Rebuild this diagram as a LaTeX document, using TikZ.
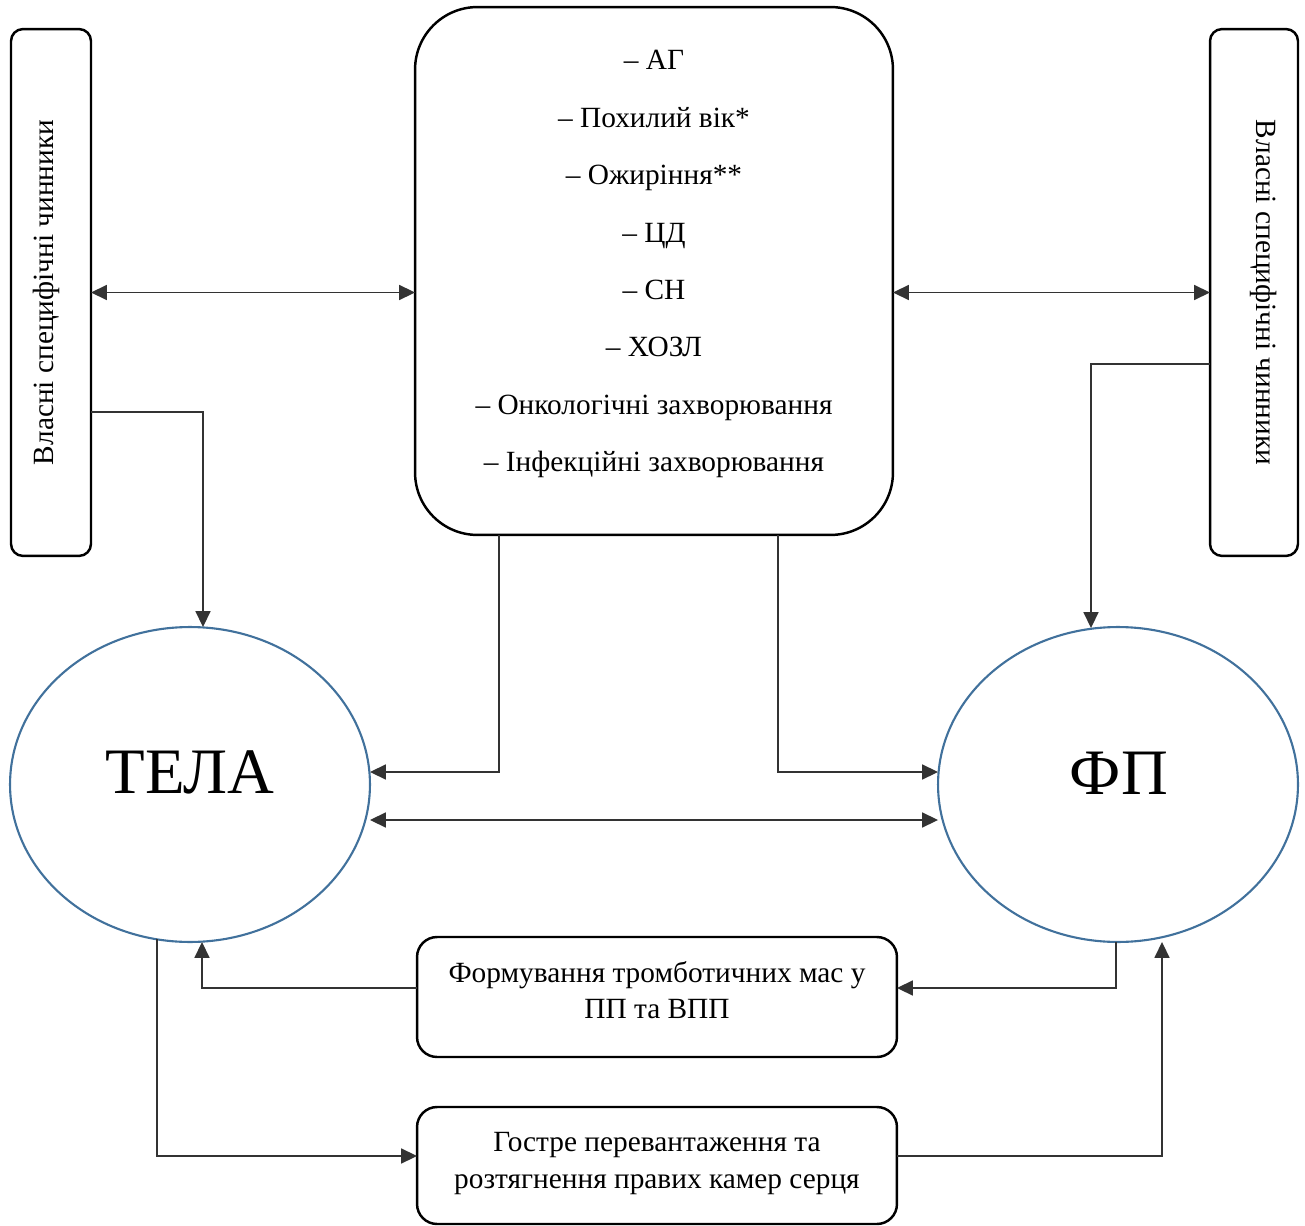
\documentclass[tikz,border=0pt]{standalone}
\usepackage{fontspec}
\setmainfont{Liberation Serif}
\usetikzlibrary{arrows.meta,shapes.geometric,calc}
\definecolor{ellblue}{HTML}{41719C}
\begin{document}
\begin{tikzpicture}[x=0.02cm,y=-0.02cm,
  box/.style={draw,line width=1.4pt,inner sep=0pt,outer sep=0pt},
  ell/.style={draw=ellblue,line width=1.2pt,ellipse,inner sep=0pt,outer sep=0pt,minimum width=7.2cm,minimum height=6.3cm},
  arr/.style={line width=0.8pt,draw=black!80,-{Triangle[length=9pt,width=8.5pt]}},
  dbl/.style={line width=0.8pt,draw=black!80,{Triangle[length=9pt,width=8.5pt]}-{Triangle[length=9pt,width=8.5pt]}},
  lst/.style={align=center,inner sep=0pt,font=\fontsize{16.7}{32.7}\selectfont},
  side/.style={inner sep=0pt,font=\fontsize{16.7}{20}\selectfont},
  btext/.style={align=center,inner sep=0pt,font=\fontsize{16.7}{21}\selectfont},
  big/.style={inner sep=0pt,font=\fontsize{36.9}{40}\selectfont}]
\useasboundingbox (0,0) rectangle (1305,1226);

% boxes
\node[box,rounded corners=0.24cm,minimum width=1.6cm,minimum height=10.54cm] (lbox) at (51,292.5) {};
\node[box,rounded corners=0.24cm,minimum width=1.76cm,minimum height=10.54cm] (rbox) at (1254,292.5) {};
\node[box,rounded corners=1.25cm,minimum width=9.56cm,minimum height=10.56cm] (cbox) at (654,271) {};
\node[box,rounded corners=0.4cm,minimum width=9.6cm,minimum height=2.4cm] (box1) at (657,997) {};
\node[box,rounded corners=0.4cm,minimum width=9.6cm,minimum height=2.34cm] (box2) at (657,1165.5) {};
\node[ell] (tela) at (190,784.5) {};
\node[ell] (fp) at (1118,784.5) {};

% texts
\node[side,rotate=90] (ltext) at (46.1,292.5) {Власні специфічні чинники};
\node[side,rotate=-90] (rtext) at (1263.9,292.5) {Власні специфічні чинники};
\node[lst] (clist) at (654,264.2) {– АГ\\– Похилий вік*\\– Ожиріння**\\– ЦД\\– СН\\– ХОЗЛ\\– Онкологічні захворювання\\– Інфекційні захворювання};
\node[btext] (t1) at (657,990.1) {Формування тромботичних мас у\\ПП та ВПП};
\node[btext] (t2) at (657,1163.7) {Гостре перевантаження та\\розтягнення правих камер серця};
\node[big,anchor=base] (telat) at (190,793) {ТЕЛА};
\node[big,anchor=base] (fpt) at (1119,794) {ФП};

% connectors
\draw[dbl] (lbox.east) -- (lbox.east -| cbox.west);
\draw[dbl] (cbox.east |- rbox.west) -- (rbox.west);
\draw[arr] (lbox.east |- 0,412) -| ($(tela.north)+(13,0)$);
\draw[arr] (rbox.west |- 0,364) -| ($(fp.north)+(-27,1)$);
\draw[arr] ($(cbox.south)+(-155,0)$) |- (tela.east |- 0,772);
\draw[arr] ($(cbox.south)+(124,0)$) |- (fp.west |- 0,772);
\draw[dbl] (tela.east |- 0,820) -- (fp.west |- 0,820);
\draw[arr] ($(fp.south)+(-2,0)$) |- (box1.east |- 0,988);
\draw[arr] (box1.west |- 0,988) -| ($(tela.south)+(12,0)$);
\draw[arr] ($(tela.south)+(-33,-3)$) |- (box2.west |- 0,1156);
\draw[arr] (box2.east |- 0,1156) -| ($(fp.south)+(44,0)$);
\end{tikzpicture}
\end{document}
